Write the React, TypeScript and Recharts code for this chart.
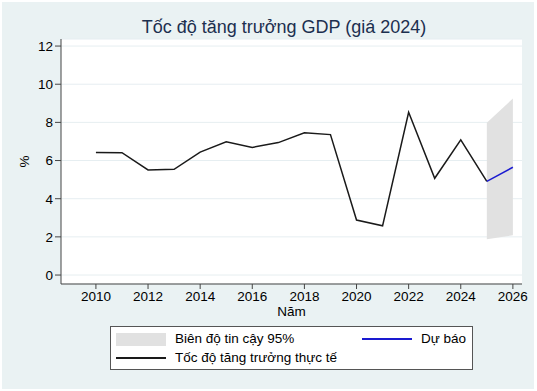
import React from "react";
import {
  ComposedChart,
  CartesianGrid,
  XAxis,
  YAxis,
  Line,
  Area,
} from "recharts";

const years = [
  2010, 2011, 2012, 2013, 2014, 2015, 2016, 2017, 2018, 2019, 2020, 2021,
  2022, 2023, 2024, 2025,
];
const actualGrowth = [
  6.42, 6.41, 5.51, 5.54, 6.44, 6.98, 6.69, 6.94, 7.46, 7.36, 2.88, 2.58,
  8.53, 5.07, 7.08, 4.91,
];
const forecastYears = [2025, 2026];
const forecastGrowth = [4.91, 5.65];
const ciLower = [1.88, 2.08];
const ciUpper = [7.98, 9.25];

const xTicks = [2010, 2012, 2014, 2016, 2018, 2020, 2022, 2024, 2026];
const yTicks = [0, 2, 4, 6, 8, 10, 12];

const title = "Tốc độ tăng trưởng GDP (giá 2024)";
const xLabel = "Năm";
const yLabel = "%";
const legendBand = "Biên độ tin cậy 95%";
const legendForecast = "Dự báo";
const legendActual = "Tốc độ tăng trưởng thực tế";

const font = "Arial, 'Liberation Sans', sans-serif";

const allYears = Array.from(new Set([...years, ...forecastYears])).sort();
const data = allYears.map((y) => {
  const i = years.indexOf(y);
  const j = forecastYears.indexOf(y);
  return {
    year: y,
    actual: i >= 0 ? actualGrowth[i] : undefined,
    forecast: j >= 0 ? forecastGrowth[j] : undefined,
    band: j >= 0 ? [ciLower[j], ciUpper[j]] : undefined,
  };
});

const LegendSwatch = ({ kind, color }: { kind: "rect" | "line"; color: string }) =>
  kind === "rect" ? (
    <span
      style={{
        display: "inline-block",
        width: 50,
        height: 13,
        background: color,
        marginRight: 9,
        verticalAlign: "middle",
      }}
    />
  ) : (
    <span
      style={{
        display: "inline-block",
        width: 50,
        height: 2,
        background: color,
        marginRight: 9,
        verticalAlign: "middle",
      }}
    />
  );

const YLabel = (props: any) => {
  const vb = props.viewBox || {};
  const cy = vb.y + vb.height / 2;
  return (
    <text
      x={24}
      y={cy}
      transform={`rotate(-90, 24, ${cy})`}
      textAnchor="middle"
      dominantBaseline="central"
      fill="#000"
      fontSize={13.5}
      fontFamily={font}
    >
      {yLabel}
    </text>
  );
};

export default function App() {
  return (
    <div
      style={{
        position: "absolute",
        left: 0,
        top: 0,
        width: 537,
        height: 391,
        background: "#ffffff",
        fontFamily: font,
      }}
    >
      <div
        style={{
          position: "absolute",
          left: 2,
          top: 2,
          width: 532,
          height: 387,
          background: "#EAF2F3",
        }}
      />
      <div
        style={{
          position: "absolute",
          left: 0,
          top: 17,
          width: 568,
          textAlign: "center",
          fontSize: 18,
          color: "#1c2f4f",
        }}
      >
        {title}
      </div>
      <div style={{ position: "absolute", left: 0, top: 0 }}>
        <ComposedChart
          width={537}
          height={391}
          data={data}
          margin={{ top: 39, right: 15, bottom: 66, left: 0 }}
        >
          <CartesianGrid
            vertical={false}
            fill="#ffffff"
            stroke="#E6EEF1"
            strokeWidth={1}
          />
          <XAxis
            dataKey="year"
            type="number"
            domain={[2008.66, 2026.35]}
            ticks={xTicks}
            allowDataOverflow
            height={41}
            tickSize={5}
            tick={{ fill: "#000", fontSize: 13.5, fontFamily: font }}
            stroke="#444"
            label={{
              value: xLabel,
              position: "insideBottom",
              offset: 9,
              fill: "#000",
              fontSize: 13.5,
              fontFamily: font,
            }}
          />
          <YAxis
            type="number"
            domain={[-0.47, 12.37]}
            ticks={yTicks}
            allowDataOverflow
            width={61}
            tickSize={6}
            tick={{ fill: "#000", fontSize: 13.5, fontFamily: font }}
            stroke="#444"
            label={<YLabel />}
          />
          <Area
            dataKey="band"
            type="linear"
            stroke="none"
            fill="#E1E1E1"
            fillOpacity={1}
            isAnimationActive={false}
          />
          <Line
            dataKey="actual"
            type="linear"
            stroke="#1a1a1a"
            strokeWidth={1.5}
            dot={false}
            isAnimationActive={false}
          />
          <Line
            dataKey="forecast"
            type="linear"
            stroke="#1a1ad0"
            strokeWidth={1.5}
            dot={false}
            isAnimationActive={false}
          />
        </ComposedChart>
      </div>
      <div
        style={{
          position: "absolute",
          left: 110,
          top: 326,
          width: 361,
          height: 42,
          background: "#ffffff",
          border: "1px solid #555",
          fontSize: 13.5,
          color: "#000",
        }}
      >
        <div style={{ position: "absolute", left: 5, top: 4, whiteSpace: "nowrap" }}>
          <LegendSwatch kind="rect" color="#E1E1E1" />
          {legendBand}
        </div>
        <div style={{ position: "absolute", left: 251, top: 4, whiteSpace: "nowrap" }}>
          <LegendSwatch kind="line" color="#1a1ad0" />
          {legendForecast}
        </div>
        <div style={{ position: "absolute", left: 5, top: 23, whiteSpace: "nowrap" }}>
          <LegendSwatch kind="line" color="#1a1a1a" />
          {legendActual}
        </div>
      </div>
    </div>
  );
}
